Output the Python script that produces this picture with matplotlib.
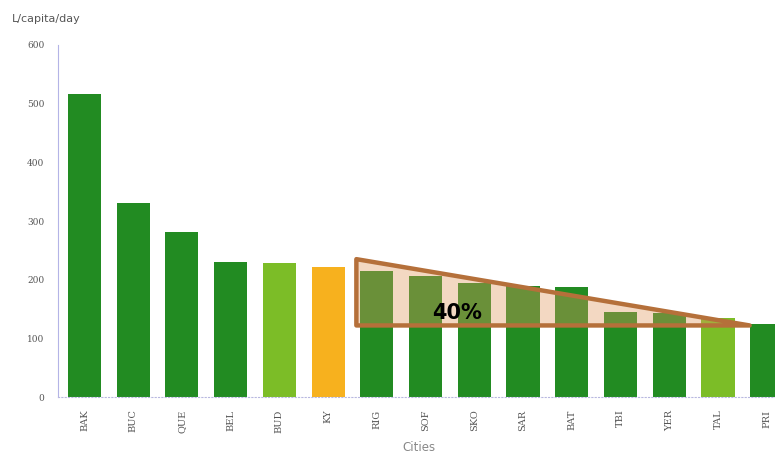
import matplotlib
matplotlib.use("Agg")
import matplotlib.pyplot as plt
from matplotlib.patches import Polygon

# water use per city, L/capita/day
cities = ["BAK", "BUC", "QUE", "BEL", "BUD", "KY", "RIG", "SOF", "SKO",
          "SAR", "BAT", "TBI", "YER", "TAL", "PRI"]
values = [516, 331, 281, 230, 228, 222, 215, 206, 194, 189, 187, 145, 143, 135, 124]
colors = ["#228B22"] * 4 + ["#7CBD27", "#F7B11E"] + ["#228B22"] * 7 + ["#7CBD27", "#228B22"]

fig = plt.figure(figsize=(7.75, 4.59), dpi=100)
ax = fig.add_axes([0.075, 0.135, 0.93, 0.767])

x = range(len(cities))
ax.bar(x, values, width=0.68, color=colors, zorder=2)

ax.set_ylim(0, 600)
ax.set_xlim(-0.54, 14.25)
ax.set_yticks(range(0, 601, 100))
ax.set_xticks(list(x))
ax.set_xticklabels(cities, rotation=90, family="serif", fontsize=7, color="#555555")
for lab in ax.get_yticklabels():
    lab.set_family("serif")
ax.tick_params(axis="y", labelsize=6.5, labelcolor="#555555", length=0, pad=10)
ax.tick_params(axis="x", length=0, pad=9)

for s in ["top", "right"]:
    ax.spines[s].set_visible(False)
ax.spines["left"].set_color("#b4b4e6")
ax.spines["bottom"].set_color("#b8b8e0")
ax.spines["bottom"].set_linestyle((0, (1, 2)))

ax.set_xlabel("Cities", fontsize=8.5, color="#888888", labelpad=6)
fig.text(0.015, 0.958, "L/capita/day", fontsize=8, color="#555555", ha="left", va="center")

# declining-trend triangle from RIG down to TAL
corners = [[5.58, values[6] + 20], [5.58, 122], [13.65, 122]]
ax.add_patch(Polygon(corners, closed=True, facecolor="#E09A60", alpha=0.38,
                     edgecolor="none", zorder=3))
ax.add_patch(Polygon(corners, closed=True, facecolor="none", edgecolor="#B5703A",
                     linewidth=3.2, joinstyle="round", zorder=4))
ax.text(7.65, 143, "40%", fontsize=15, fontweight="bold", ha="center", va="center", zorder=5)

fig.savefig("out.png", dpi=100)
